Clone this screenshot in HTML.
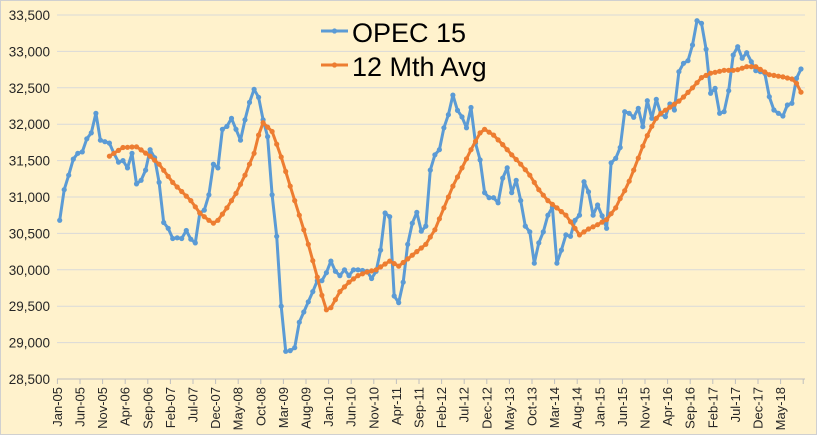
<!DOCTYPE html>
<html><head><meta charset="utf-8"><style>
html,body{margin:0;padding:0;background:#FFF2CC;}
svg{display:block;font-family:"Liberation Sans",sans-serif;}
</style></head><body>
<svg id="c" width="817" height="435" xmlns="http://www.w3.org/2000/svg"></svg>
<script>
const s=document.getElementById('c');let h='';
h+='<rect x="0.5" y="0.5" width="816" height="434" fill="#FFF2CC" stroke="#d0d0d0"/>';
const Y=v=>15+(33500-v)*364/5000;
for(let v=28500;v<=33500;v+=500){const y=Y(v);
 if(v>28500)h+=`<line x1="57" x2="805" y1="${y}" y2="${y}" stroke="#d9d9d9" stroke-width="1"/>`;
 h+=`<text x="50" y="${y+5}" font-size="13.5" text-anchor="end" fill="#262626">${v.toLocaleString('en-US')}</text>`;}
h+=`<line x1="57" x2="805" y1="379" y2="379" stroke="#bfbfbf"/>`;
const M=['Jan','Feb','Mar','Apr','May','Jun','Jul','Aug','Sep','Oct','Nov','Dec'];
const X=i=>59.7+4.52*i;
for(let k=0;k<=165;k+=5){const x=57.4+4.52*k;h+=`<line x1="${x}" x2="${x}" y1="379" y2="384" stroke="#bfbfbf"/>`;
 if(k<=160){const m=k%12,yr=5+Math.floor(k/12);h+=`<text transform="translate(${x+4.5},387) rotate(-90)" font-size="13" text-anchor="end" fill="#262626">${M[m]}-${String(yr).padStart(2,'0')}</text>`;}}
const b=[30680,31100,31300,31520,31600,31620,31800,31880,32150,31780,31760,31740,31600,31480,31500,31400,31600,31180,31230,31370,31650,31540,31200,30650,30570,30430,30440,30430,30540,30420,30370,30780,30820,31030,31450,31400,31930,31970,32080,31930,31780,32060,32300,32480,32370,32060,31830,31030,30460,29500,28880,28890,28930,29280,29420,29560,29700,29850,29850,29960,30120,29980,29920,30000,29920,30000,30000,29990,29980,29880,29980,30270,30780,30730,29640,29550,29830,30350,30640,30790,30530,30600,31370,31580,31650,31950,32130,32400,32190,32100,31950,32230,31740,31510,31060,30990,30990,30920,31260,31400,31060,31230,30950,30600,30520,30090,30370,30520,30750,30860,30090,30270,30480,30460,30680,30750,31210,31070,30750,30890,30740,30570,31470,31530,31680];
const by=b.map(Y);
const tail=[111.7,113.3,117.3,108.3,126.7,100.7,118.3,99.3,114,116.7,104,110,71.7,63.3,60.7,45,20.7,23.3,49.3,93.3,88.3,113.3,111.7,90.7,55,46.7,58.3,52.7,61.7,70.7,71.7,73.3,96.7,110,113.3,116,105,103.3,78.3,69];
const blue=by.concat(tail);
const ok=[[11,31560],[14,31680],[17,31690],[20,31560],[22,31450],[25,31200],[29,30950],[31,30780],[33,30680],[34,30640],[35,30680],[37,30850],[39,31050],[41,31300],[43,31600],[44,31850],[45,32020],[47,31900],[49,31550],[52,30950],[55,30350],[57,29900],[58,29650],[59,29450],[60,29480],[62,29700],[64,29830],[66,29920],[68,29970],[70,30000],[72,30080],[73,30120],[75,30050],[77,30150],[79,30250],[81,30350],[83,30550],[85,30850],[87,31150],[89,31400],[91,31650],[93,31880],[94,31930],[96,31850],[98,31720],[100,31580],[102,31450],[104,31300],[106,31100],[108,30950],[110,30850],[112,30750],[115,30480],[117,30560],[119,30620],[121,30690],[123,30850],[124,30980],[125.5,31140],[127,31370],[129.5,31780],[131.7,32060],[133,32150],[137.3,32330],[140,32500],[142,32640],[144,32700],[147,32740],[149.6,32740],[152,32790],[154,32790],[157,32680],[160,32650],[162.7,32610],[163.5,32480],[164,32440]];
const orange=[];
for(let i=11;i<=164;i++){let v;for(let j=0;j<ok.length-1;j++){if(i>=ok[j][0]&&i<=ok[j+1][0]){const t=(i-ok[j][0])/(ok[j+1][0]-ok[j][0]);v=ok[j][1]+t*(ok[j+1][1]-ok[j][1]);break;}}orange.push([X(i),Y(v)]);}
function ser(pts,c){let d=pts.map(p=>p[0].toFixed(1)+','+p[1].toFixed(1)).join(' ');let r=`<polyline points="${d}" fill="none" stroke="${c}" stroke-width="3" stroke-linejoin="round"/>`;pts.forEach(p=>r+=`<circle cx="${p[0].toFixed(1)}" cy="${p[1].toFixed(1)}" r="2.6" fill="${c}"/>`);return r;}
h+=ser(blue.map((y,i)=>[X(i),y]),'#5B9BD5');
h+=ser(orange,'#ED7D31');
h+=`<line x1="321" x2="348" y1="31" y2="31" stroke="#5B9BD5" stroke-width="3"/><circle cx="334.5" cy="31" r="2.6" fill="#5B9BD5"/>`;
h+=`<text x="352" y="42" font-size="27" fill="#000">OPEC 15</text>`;
h+=`<line x1="321" x2="348" y1="65" y2="65" stroke="#ED7D31" stroke-width="3"/><circle cx="334.5" cy="65" r="2.6" fill="#ED7D31"/>`;
h+=`<text x="352" y="76" font-size="27" fill="#000">12 Mth Avg</text>`;
s.innerHTML=h;
</script>
</body></html>
